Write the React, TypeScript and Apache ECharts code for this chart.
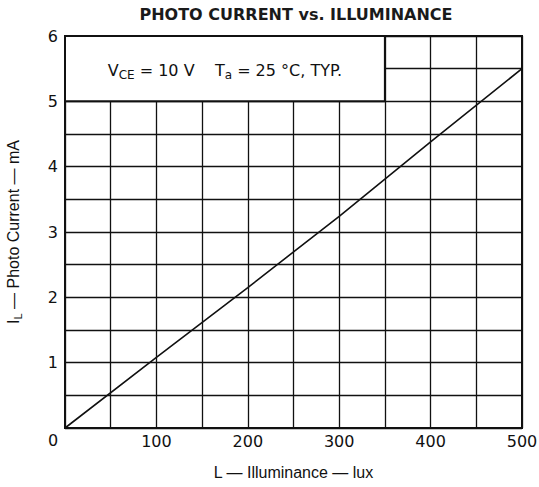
import React, { useEffect, useRef } from "react";
import * as echarts from "echarts";

const titleText = "PHOTO CURRENT vs. ILLUMINANCE";
const illuminance = [0, 100, 200, 300, 400, 500];
const photoCurrent = [0, 1.08, 2.15, 3.24, 4.38, 5.5];
const xTickLabels = [100, 200, 300, 400, 500];
const yTickLabels = [1, 2, 3, 4, 5, 6];
const boxRange = { x0: 0, x1: 350, y0: 5, y1: 6 };

export default function App() {
  const ref = useRef<HTMLDivElement>(null);
  useEffect(() => {
    if (!ref.current) return;
    const chart = echarts.init(ref.current, null, { renderer: "svg" });
    const tickFont = "DejaVu Sans";
    chart.setOption({
      animation: false,
      backgroundColor: "#fff",
      graphic: [
        {
          type: "text",
          x: 296,
          y: 14,
          style: {
            text: titleText,
            font: "bold 16px 'DejaVu Sans'",
            fill: "#1a1a1a",
            textAlign: "center",
            textVerticalAlign: "middle",
          },
        },
        {
          type: "text",
          x: 53,
          y: 440,
          style: {
            text: "0",
            font: "16px 'DejaVu Sans'",
            fill: "#111",
            textAlign: "center",
            textVerticalAlign: "middle",
          },
        },
      ],
      grid: {
        left: 65,
        right: 17,
        top: 36,
        bottom: 59,
        containLabel: false,
        outerBoundsMode: "none",
        show: true,
        borderColor: "#111",
        borderWidth: 2,
        backgroundColor: "#fff",
      },
      xAxis: {
        type: "value",
        min: 0,
        max: 500,
        interval: 50,
        name: "L — Illuminance — lux",
        nameLocation: "middle",
        nameGap: 36,
        nameTextStyle: { fontFamily: "Liberation Sans", fontSize: 16, color: "#111" },
        axisLine: { show: true, lineStyle: { color: "#111", width: 2 } },
        axisTick: { show: false },
        axisLabel: {
          margin: 5,
          fontFamily: tickFont,
          fontSize: 16,
          color: "#111",
          formatter: (v: number) => (xTickLabels.includes(v) ? String(v) : ""),
        },
        splitLine: { show: true, lineStyle: { color: "#111", width: 1.3 } },
      },
      yAxis: {
        type: "value",
        min: 0,
        max: 6,
        interval: 0.5,
        name: "{a|I}{s|L}{a| — Photo Current — mA}",
        nameLocation: "middle",
        nameGap: 42,
        nameTextStyle: {
          rich: {
            a: { fontFamily: "Liberation Sans", fontSize: 16, color: "#111" },
            s: { fontFamily: "Liberation Sans", fontSize: 11, color: "#111", padding: [8, 0, 0, 0] },
          },
        },
        axisLine: { show: true, lineStyle: { color: "#111", width: 2 } },
        axisTick: { show: false },
        axisLabel: {
          margin: 7,
          fontFamily: tickFont,
          fontSize: 16,
          color: "#111",
          formatter: (v: number) => (yTickLabels.includes(v) ? String(v) : ""),
        },
        splitLine: { show: true, lineStyle: { color: "#111", width: 1.3 } },
      },
      series: [
        {
          type: "line",
          data: illuminance.map((x, i) => [x, photoCurrent[i]]),
          symbol: "none",
          lineStyle: { color: "#111", width: 1.6 },
          z: 3,
          markArea: {
            silent: true,
            itemStyle: { color: "#fff", borderColor: "#111", borderWidth: 2, opacity: 1 },
            label: {
              show: true,
              position: "inside",
              offset: [0, 2],
              formatter: "{a|V}{s|CE}{a| = 10 V    T}{s|a}{a| = 25 °C, TYP.}",
              rich: {
                a: { fontFamily: "DejaVu Sans", fontSize: 16, color: "#111" },
                s: { fontFamily: "DejaVu Sans", fontSize: 12, color: "#111", padding: [8, 0, 0, 0] },
              },
            },
            data: [
              [
                { xAxis: boxRange.x0, yAxis: boxRange.y0 },
                { xAxis: boxRange.x1, yAxis: boxRange.y1 },
              ],
            ],
          },
        },
      ],
    });
    return () => chart.dispose();
  }, []);
  return (
    <div
      ref={ref}
      style={{ position: "absolute", left: 0, top: 0, width: 539, height: 487 }}
    />
  );
}
